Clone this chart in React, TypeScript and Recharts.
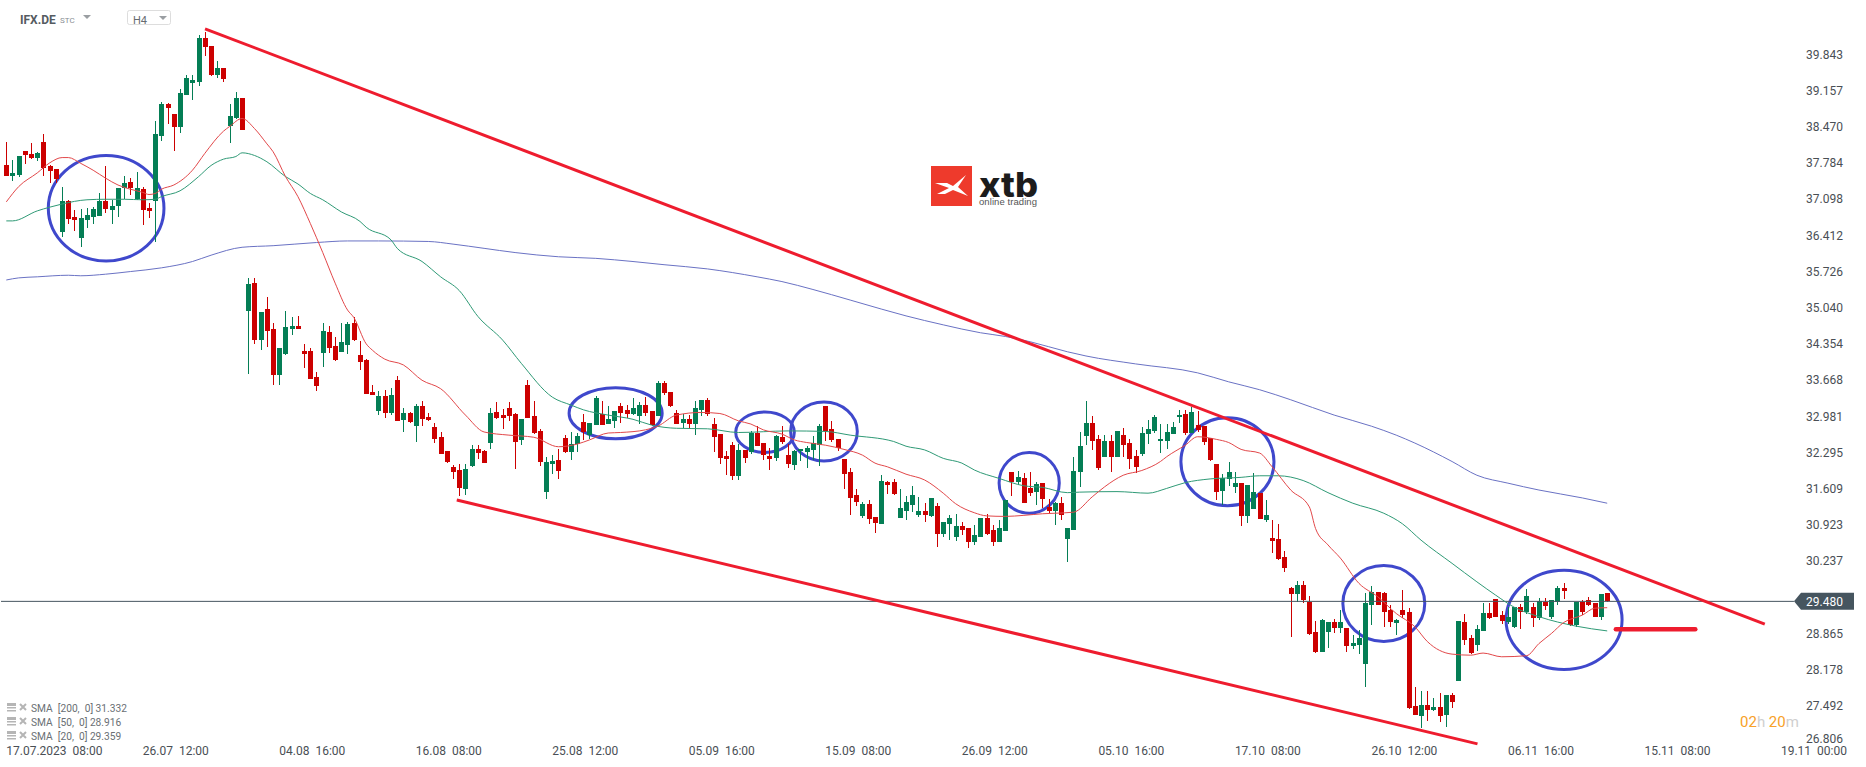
import React from 'react'
import {
  ComposedChart, Bar, Line, XAxis, YAxis, ReferenceLine, ReferenceArea,
} from 'recharts'

const UP = '#047e55'
const DOWN = '#cc0000'
const TREND = '#ee1c2e'
const RING = '#3f48cc'
const FONT = 'Roboto, sans-serif'

// H4 candles, left to right
const opens = [
  37.74, 37.55, 37.56, 38.01, 37.96, 37.88, 38.18, 37.73, 37.67, 36.48,
  37.07, 36.76, 36.37, 36.71, 36.76, 36.78, 37.07, 36.90, 36.97, 37.31,
  37.43, 37.10, 37.29, 36.93, 37.07, 38.30, 38.91, 38.72, 38.47, 39.08,
  39.30, 39.32, 40.16, 40.00, 39.45, 39.59, 38.49, 38.64, 39.02, 34.98,
  35.51, 34.43, 35.02, 34.64, 33.77, 34.17, 34.64, 34.70, 34.23, 34.23,
  33.73, 34.19, 34.58, 34.32, 34.21, 34.34, 34.76, 34.15, 34.05, 33.45,
  33.09, 33.37, 33.05, 33.67, 32.92, 33.05, 32.80, 33.18, 32.97, 32.78,
  32.60, 32.33, 32.03, 31.97, 31.61, 32.05, 32.37, 32.33, 32.48, 33.07,
  33.01, 33.14, 33.03, 32.54, 33.58, 32.99, 32.71, 31.55, 32.08, 32.16,
  32.57, 32.31, 32.46, 32.88, 32.63, 32.82, 33.03, 32.84, 32.90, 33.18,
  33.11, 33.03, 32.99, 33.20, 33.09, 32.99, 33.62, 33.45, 33.05, 32.86,
  32.94, 32.84, 33.11, 33.30, 32.84, 32.65, 32.23, 32.44, 31.86, 32.35,
  32.31, 32.67, 32.48, 32.23, 32.20, 32.60, 32.25, 32.06, 32.32, 32.31,
  32.35, 32.44, 33.18, 32.75, 32.56, 32.18, 31.93, 31.50, 31.10, 31.33,
  31.08, 30.95, 31.74, 31.74, 31.06, 31.19, 31.31, 31.12, 31.19, 31.10,
  31.29, 30.76, 30.95, 30.70, 30.91, 30.87, 30.61, 30.70, 31.06, 30.83,
  30.61, 30.81, 31.93, 31.74, 31.82, 31.63, 31.55, 31.72, 31.27, 31.19,
  31.34, 30.66, 30.83, 31.93, 32.61, 32.86, 32.56, 32.22, 32.52, 32.22,
  32.63, 32.48, 32.23, 32.27, 32.65, 32.71, 32.51, 32.52, 32.65, 32.98,
  33.03, 32.67, 32.82, 32.80, 32.58, 32.08, 31.57, 31.80, 31.65, 31.72,
  31.10, 31.23, 31.53, 31.02, 30.68, 30.66, 30.32, 29.73, 29.62, 29.79,
  29.47, 28.90, 28.52, 28.90, 29.09, 28.98, 28.98, 28.63, 28.65, 28.29,
  29.41, 29.66, 29.64, 29.32, 29.07, 29.32, 29.28, 27.50, 27.31, 27.52,
  27.42, 27.48, 27.33, 27.70, 27.97, 29.09, 28.79, 28.65, 28.92, 29.26,
  29.52, 29.22, 29.09, 29.00, 29.37, 29.28, 29.37, 29.17, 29.47, 29.18,
  29.47, 29.73, 29.32, 29.03, 29.47, 29.50, 29.45, 29.18, 29.64,
]
const closes = [
  37.55, 37.60, 37.92, 37.93, 37.88, 37.98, 37.70, 37.64, 37.48, 37.07,
  36.73, 36.71, 36.74, 36.80, 36.92, 37.07, 36.92, 36.97, 37.31, 37.41,
  37.31, 37.31, 36.90, 36.88, 38.34, 38.91, 38.83, 38.47, 39.11, 39.40,
  39.36, 40.16, 39.99, 39.45, 39.59, 39.38, 38.68, 39.02, 38.41, 35.50,
  34.43, 34.96, 34.60, 33.77, 34.28, 34.68, 34.70, 34.64, 34.17, 33.69,
  33.56, 34.60, 34.28, 34.05, 34.40, 34.74, 34.43, 34.02, 33.41, 33.39,
  33.37, 33.05, 33.39, 32.90, 33.05, 32.88, 33.18, 32.94, 32.92, 32.56,
  32.27, 32.12, 31.93, 31.63, 31.99, 32.37, 32.29, 32.10, 33.05, 32.96,
  32.96, 32.99, 32.50, 32.94, 32.96, 32.67, 32.12, 32.12, 32.14, 31.95,
  32.31, 32.46, 32.61, 32.69, 32.86, 33.33, 32.82, 32.94, 33.09, 33.05,
  33.03, 33.14, 33.20, 33.05, 32.82, 33.62, 33.43, 33.18, 32.84, 32.94,
  32.84, 33.14, 33.30, 33.03, 32.59, 32.20, 32.18, 31.86, 32.35, 32.20,
  32.67, 32.42, 32.25, 32.18, 32.61, 32.50, 32.08, 32.33, 32.36, 32.39,
  32.48, 32.80, 32.71, 32.54, 32.39, 31.89, 31.44, 31.36, 31.33, 31.04,
  30.97, 31.76, 31.69, 31.51, 31.25, 31.36, 31.50, 31.19, 31.12, 31.44,
  30.76, 30.98, 31.06, 30.91, 30.83, 30.61, 30.74, 31.06, 30.76, 30.61,
  30.87, 31.40, 31.74, 31.84, 31.34, 31.53, 31.70, 31.42, 31.19, 31.34,
  31.12, 30.87, 31.95, 32.42, 32.86, 32.52, 32.01, 32.52, 32.22, 32.71,
  32.44, 32.18, 32.03, 32.67, 32.75, 32.97, 32.56, 32.69, 32.78, 33.02,
  32.67, 33.07, 32.73, 32.50, 32.16, 31.55, 31.82, 31.93, 31.72, 31.10,
  31.68, 31.55, 31.04, 31.12, 30.62, 30.28, 30.11, 29.62, 29.79, 29.51,
  28.86, 28.52, 29.13, 29.09, 28.98, 29.09, 28.63, 28.69, 28.79, 29.45,
  29.66, 29.41, 29.28, 29.09, 29.13, 29.22, 27.46, 27.33, 27.52, 27.42,
  27.48, 27.31, 27.70, 27.57, 29.11, 28.75, 28.50, 28.96, 29.26, 29.17,
  29.18, 29.11, 29.18, 29.37, 29.28, 29.58, 29.17, 29.49, 29.39, 29.50,
  29.73, 29.68, 29.03, 29.47, 29.28, 29.41, 29.18, 29.62, 29.49,
]
const highs = [
  38.18, 37.84, 37.92, 38.01, 38.16, 38.00, 38.33, 37.74, 37.67, 37.33,
  37.09, 36.90, 36.92, 36.93, 36.95, 37.21, 37.73, 37.09, 37.31, 37.54,
  37.50, 37.62, 37.33, 37.03, 38.58, 38.94, 38.92, 38.72, 39.19, 39.45,
  39.45, 40.21, 40.27, 40.00, 39.72, 39.59, 38.91, 39.13, 39.02, 35.61,
  35.61, 34.96, 35.25, 34.76, 34.28, 34.98, 34.87, 34.89, 34.36, 34.28,
  33.83, 34.76, 34.70, 34.49, 34.76, 34.77, 34.87, 34.41, 34.07, 33.58,
  33.47, 33.49, 33.52, 33.75, 33.14, 33.07, 33.22, 33.28, 33.05, 32.86,
  32.69, 32.33, 32.06, 32.08, 32.08, 32.44, 32.44, 32.35, 33.14, 33.26,
  33.13, 33.26, 33.05, 32.94, 33.67, 33.28, 32.75, 32.22, 32.25, 32.37,
  32.63, 32.69, 32.67, 33.03, 32.86, 33.37, 33.28, 33.18, 33.09, 33.24,
  33.20, 33.33, 33.26, 33.35, 33.09, 33.66, 33.66, 33.45, 33.11, 33.03,
  33.01, 33.28, 33.30, 33.33, 32.95, 32.65, 32.33, 32.50, 32.46, 32.35,
  32.71, 32.80, 32.48, 32.39, 32.63, 32.80, 32.46, 32.35, 32.37, 32.42,
  32.61, 32.84, 33.18, 32.90, 32.56, 32.18, 32.01, 31.61, 31.36, 31.40,
  31.08, 31.87, 31.76, 31.80, 31.61, 31.48, 31.67, 31.46, 31.34, 31.44,
  31.34, 30.98, 31.12, 31.14, 30.98, 30.87, 30.93, 31.06, 31.14, 30.93,
  31.02, 31.40, 31.93, 31.95, 31.91, 31.93, 31.74, 31.72, 31.42, 31.36,
  31.46, 30.87, 32.22, 32.69, 33.28, 32.99, 32.63, 32.63, 32.63, 32.71,
  32.77, 32.56, 32.35, 32.78, 32.92, 33.01, 32.84, 32.84, 32.88, 33.11,
  33.11, 33.16, 33.09, 32.80, 32.58, 32.08, 31.89, 32.12, 31.93, 31.72,
  31.68, 31.91, 31.53, 31.40, 31.02, 30.95, 30.43, 29.75, 29.87, 29.87,
  29.58, 29.11, 29.15, 29.09, 29.15, 29.32, 28.98, 28.84, 28.94, 29.64,
  29.77, 29.66, 29.66, 29.41, 29.15, 29.70, 29.35, 27.86, 27.78, 27.78,
  27.65, 27.74, 27.70, 27.74, 29.11, 29.24, 28.84, 29.03, 29.45, 29.45,
  29.52, 29.30, 29.37, 29.37, 29.43, 29.71, 29.45, 29.54, 29.54, 29.50,
  29.77, 29.83, 29.32, 29.47, 29.50, 29.56, 29.45, 29.62, 29.64,
]
const lows = [
  37.55, 37.45, 37.53, 37.77, 37.86, 37.83, 37.55, 37.41, 37.40, 36.39,
  36.64, 36.50, 36.20, 36.56, 36.63, 36.78, 36.84, 36.63, 36.76, 37.10,
  37.18, 37.09, 36.61, 36.74, 36.29, 38.20, 38.53, 38.01, 38.36, 39.08,
  38.98, 39.25, 39.81, 39.44, 39.40, 39.32, 38.17, 38.62, 38.41, 33.79,
  34.36, 34.24, 34.30, 33.58, 33.58, 34.15, 34.53, 34.64, 33.90, 33.69,
  33.47, 33.92, 34.19, 34.03, 34.21, 34.17, 34.41, 33.86, 33.41, 33.39,
  33.01, 32.96, 33.01, 32.90, 32.69, 32.86, 32.50, 32.80, 32.90, 32.48,
  32.27, 32.10, 31.80, 31.48, 31.50, 32.03, 32.18, 32.10, 32.37, 32.94,
  32.75, 32.90, 31.99, 32.44, 32.96, 32.65, 32.05, 31.42, 31.89, 31.80,
  32.29, 32.16, 32.31, 32.54, 32.56, 32.82, 32.82, 32.84, 32.77, 32.86,
  32.96, 33.01, 32.84, 32.99, 32.80, 32.99, 33.39, 33.16, 32.84, 32.77,
  32.75, 32.63, 32.99, 32.99, 32.31, 32.08, 31.87, 31.78, 31.78, 32.10,
  32.27, 32.42, 32.16, 31.97, 32.14, 32.46, 32.01, 31.97, 32.14, 32.01,
  32.16, 32.05, 32.52, 32.50, 32.33, 31.61, 31.12, 31.29, 31.06, 30.95,
  30.78, 30.95, 31.51, 31.49, 31.06, 31.02, 31.17, 31.08, 30.98, 31.08,
  30.51, 30.70, 30.64, 30.63, 30.74, 30.49, 30.55, 30.70, 30.74, 30.53,
  30.61, 30.81, 31.48, 31.69, 31.34, 31.48, 31.31, 31.25, 31.15, 30.93,
  31.02, 30.23, 30.83, 31.65, 32.44, 32.35, 31.97, 32.22, 31.93, 32.22,
  32.22, 31.99, 31.91, 32.23, 32.46, 32.67, 32.30, 32.37, 32.65, 32.86,
  32.63, 32.67, 32.69, 32.44, 32.14, 31.40, 31.31, 31.67, 31.53, 30.91,
  30.97, 31.23, 31.04, 30.98, 30.40, 30.26, 30.04, 28.80, 29.47, 29.45,
  28.84, 28.50, 28.52, 28.60, 28.88, 28.88, 28.52, 28.58, 28.48, 27.86,
  29.03, 29.41, 29.00, 29.00, 28.84, 29.17, 27.44, 27.33, 27.08, 27.21,
  27.40, 27.19, 27.10, 27.46, 27.97, 28.65, 28.48, 28.54, 28.92, 29.15,
  29.18, 29.05, 29.05, 28.98, 28.96, 29.24, 29.00, 29.13, 29.32, 29.15,
  29.41, 29.52, 29.01, 28.99, 29.22, 29.39, 29.18, 29.13, 29.47,
]

// moving averages, read at the candle numbers listed
const sma20Index = [
  0, 2, 5, 7, 9, 10, 12, 14, 16, 18, 20, 22, 23, 24, 25, 27, 30, 32, 35, 36, 38, 40, 42, 43, 45, 47, 49, 51, 53, 55,
  56, 58, 59, 61, 64, 67, 70, 74, 77, 81, 85, 89, 92, 94, 97, 99, 103, 105, 108, 112, 115, 118, 120, 122, 125, 127,
  129, 132, 135, 138, 140, 142, 145, 148, 151, 153, 156, 158, 161, 164, 167, 169, 172, 175, 177, 180, 183, 186, 187,
  190, 192, 195, 197, 199, 202, 204, 207, 210, 211, 213, 215, 218, 221, 224, 227, 229, 233, 236, 238, 241, 245, 247,
  249, 251, 254, 256, 258,
]
const sma20Values = [
  37.05, 37.34, 37.60, 37.79, 37.89, 37.89, 37.78, 37.65, 37.50, 37.37, 37.29, 37.23, 37.19, 37.21, 37.29, 37.37, 37.65,
  37.97, 38.39, 38.48, 38.63, 38.44, 38.15, 38.00, 37.53, 37.15, 36.64, 36.09, 35.51, 35.00,
  34.86, 34.36, 34.24, 34.07, 33.96, 33.67, 33.51, 33.01, 32.69, 32.63, 32.59, 32.41, 32.46, 32.54, 32.67, 32.68, 32.73,
  32.80, 33.01, 33.06, 33.04, 32.90, 32.84, 32.73, 32.65, 32.54,
  32.49, 32.44, 32.36, 32.25, 32.10, 32.03, 31.89, 31.78, 31.53, 31.33, 31.16, 31.10, 31.09, 31.11, 31.14, 31.15, 31.17,
  31.46, 31.65, 31.87, 31.96, 32.13, 32.22,
  32.44, 32.60, 32.55, 32.49, 32.36, 32.29, 32.03, 31.59, 31.27, 30.86, 30.55, 30.30, 29.82, 29.57, 29.25, 29.00, 28.72,
  28.48, 28.46, 28.50, 28.43, 28.45, 28.68,
  28.87, 29.08, 29.22, 29.35, 29.36,
]
const sma50Index = [
  0, 1, 5, 7, 9, 13, 16, 19, 22, 24, 25, 28, 31, 33, 35, 37, 38, 40, 42, 45, 47, 49, 51, 54, 57, 58, 62, 63, 67, 70, 73,
  76, 80, 83, 88, 91, 93, 97, 101, 104, 108, 113, 118, 126, 132, 136, 143, 145, 148, 151, 154, 156, 160, 164, 167, 171,
  173, 179, 184, 187, 190, 194, 199, 202, 205, 209, 213, 217, 222, 225, 228, 233, 237, 240, 243, 247, 253, 258,
]
const sma50Values = [
  36.69, 36.69, 36.88, 36.95, 37.01, 37.09, 37.10, 37.10, 37.09, 37.10, 37.15, 37.26, 37.53, 37.74, 37.86, 37.91, 37.98,
  37.93, 37.81, 37.53, 37.39, 37.21, 37.09, 36.86, 36.68, 36.57, 36.33, 36.17, 35.92, 35.63, 35.37,
  34.88, 34.43, 33.99, 33.35, 33.20, 33.11, 33.01, 32.93, 32.82, 32.76, 32.75, 32.68, 32.71, 32.70, 32.63, 32.51, 32.42,
  32.35, 32.19, 32.10, 31.97, 31.81, 31.67, 31.64, 31.54,
  31.55, 31.56, 31.53, 31.62, 31.73, 31.80, 31.83, 31.86, 31.86, 31.77, 31.54, 31.34, 31.15, 30.95, 30.64, 30.20, 29.85,
  29.60, 29.37, 29.19, 29.01, 28.92,
]
const sma200Index = [
  0, 2, 5, 10, 12, 16, 20, 25, 30, 33, 38, 43, 50, 55, 60, 68, 72, 77, 82, 89, 95, 101, 106, 113, 121, 125, 130, 136,
  141, 145, 151, 157, 161, 165, 171, 174, 182, 192, 197, 202, 207, 214, 220, 224, 227, 233, 237, 242, 247, 254, 258,
]
const sma200Values = [
  35.57, 35.61, 35.63, 35.66, 35.65, 35.68, 35.73, 35.80, 35.92, 36.04, 36.19, 36.22, 36.28, 36.31, 36.31, 36.30, 36.25,
  36.17, 36.09, 36.01, 35.98, 35.92, 35.86, 35.78, 35.63, 35.54, 35.39, 35.19,
  35.02, 34.89, 34.72, 34.57, 34.50, 34.40, 34.21, 34.13, 33.98, 33.81, 33.64, 33.49, 33.30, 33.01, 32.80, 32.63, 32.48,
  32.13, 31.87, 31.72, 31.59, 31.44, 31.34,
]

const priceTicks = [
  39.843, 39.157, 38.47, 37.784, 37.098, 36.412, 35.726, 35.04, 34.354, 33.668,
  32.981, 32.295, 31.609, 30.923, 30.237, 29.48, 28.865, 28.178, 27.492, 26.806,
]
const lastPrice = 29.48

const timeTicks = [0, 22, 44, 66, 88, 110, 132, 154, 176, 198, 220, 242, 264, 286]
const timeLabels = [
  '17.07.2023  08:00', '26.07  12:00', '04.08  16:00', '16.08  08:00', '25.08  12:00', '05.09  16:00', '15.09  08:00',
  '26.09  12:00', '05.10  16:00', '17.10  08:00', '26.10  12:00', '06.11  16:00', '15.11  08:00', '19.11  00:00',
]

// drawn on the chart by hand: [candle, price] ends of each line
const upperTrend = [[32.03, 40.33], [283.4, 29.05]]
const lowerTrend = [[72.6, 31.40], [237.1, 26.78]]
const targetLine = [[259.4, 28.95], [272.2, 28.95]]

// [first candle, last candle, top price, bottom price]
const rings = [
  [6.77, 25.41, 37.93, 35.93],
  [90.7, 105.7, 33.53, 32.56],
  [117.55, 127.0, 33.07, 32.30],
  [126.4, 137.15, 33.26, 32.14],
  [160.0, 169.7, 32.30, 31.15],
  [189.3, 204.3, 32.96, 31.29],
  [215.4, 228.6, 30.16, 28.72],
  [241.7, 260.4, 30.07, 28.19],
]

const legendLines = ['SMA  [200,  0] 31.332', 'SMA  [50,  0] 28.916', 'SMA  [20,  0] 29.359']

const rows = opens.map((open, i) => ({
  i,
  open,
  close: closes[i],
  range: [lows[i], highs[i]],
  sma20: sma20Index.includes(i) ? sma20Values[sma20Index.indexOf(i)] : null,
  sma50: sma50Index.includes(i) ? sma50Values[sma50Index.indexOf(i)] : null,
  sma200: sma200Index.includes(i) ? sma200Values[sma200Index.indexOf(i)] : null,
}))

function Candle(props: any) {
  const { x, y, width, height, payload } = props
  const [low, high] = payload.range
  const perUnit = height / (high - low)
  const top = y + (high - Math.max(payload.open, payload.close)) * perUnit
  const bottom = y + (high - Math.min(payload.open, payload.close)) * perUnit
  const left = Math.round(x + width / 2 - 2.5)
  const color = payload.close >= payload.open ? UP : DOWN
  return (
    <g shapeRendering="crispEdges">
      <rect x={left + 2} y={y} width={1} height={height} fill={color} />
      <rect x={left} y={top} width={5} height={Math.max(bottom - top, 1)} fill={color} />
    </g>
  )
}

function Ring(props: any) {
  const { x, y, width, height } = props
  return (
    <ellipse
      cx={x + width / 2}
      cy={y + height / 2}
      rx={width / 2}
      ry={height / 2}
      fill="none"
      stroke={RING}
      strokeWidth={3}
    />
  )
}

function TimeTick(props: any) {
  return (
    <text x={props.x} y={755} fontFamily={FONT} fontSize={12} fill="#4a4f55" style={{ whiteSpace: 'pre' }}>
      {timeLabels[timeTicks.indexOf(props.payload.value)]}
    </text>
  )
}

function PriceTick(props: any) {
  const value = props.payload.value
  const y = Math.min(props.y, 738.5)
  if (value === lastPrice) {
    return (
      <g>
        <polygon points={`1794,${y} 1801,${y - 8.5} 1854,${y - 8.5} 1854,${y + 8.5} 1801,${y + 8.5}`} fill="#46555f" />
        <text x={1806} y={y + 4.5} fontFamily={FONT} fontSize={12} fill="#fff">{value.toFixed(3)}</text>
      </g>
    )
  }
  return (
    <text x={1806} y={y + 4} fontFamily={FONT} fontSize={12} fill="#4a4f55">{value.toFixed(3)}</text>
  )
}

function trendSegment(line: number[][]) {
  return line.map(([x, y]) => ({ x, y }))
}

function Overlay() {
  return (
    <svg width={1866} height={767} style={{ position: 'absolute', left: 0, top: 0, pointerEvents: 'none' }}>
      {/* header */}
      <text x={20} y={24} fontFamily={FONT} fontSize={12} fontWeight={700} fill="#555b61">IFX.DE</text>
      <text x={60} y={23} fontFamily={FONT} fontSize={8} fill="#8a8f94">STC</text>
      <polygon points="83,15 91,15 87,19" fill="#9a9ea2" />
      <rect x={127.5} y={10.5} width={43} height={14} rx={2} fill="#fff" stroke="#dddddd" />
      <text x={133} y={24} fontFamily={FONT} fontSize={11} fill="#666b70">H4</text>
      <polygon points="159,16 167,16 163,20" fill="#9a9ea2" />

      {/* logo */}
      <rect x={931} y={166} width={41} height={40} fill="#ee3a2c" />
      <polygon
        points="935,183 947,183 953,186 966,175 958,187 968,196 953,190 945,194 937,194 949,188"
        fill="#fff"
      />
      <text x={979} y={197} fontFamily="Inter, sans-serif" fontSize={34} fontWeight={800} fill="#1c1c1c" textLength={59} lengthAdjust="spacingAndGlyphs">xtb</text>
      <text x={979} y={205} fontFamily="Liberation Sans, Arial, sans-serif" fontSize={9.5} fill="#555" textLength={58}>online trading</text>

      {/* indicator legend */}
      {legendLines.map((line, k) => {
        const y = 708 + k * 14
        return (
          <g key={line}>
            <rect x={7} y={y - 5} width={9} height={3} fill="#b5b5b5" />
            <rect x={7} y={y - 1} width={9} height={1.5} fill="#b5b5b5" />
            <rect x={7} y={y + 2} width={9} height={1.5} fill="#b5b5b5" />
            <path d={`M20,${y - 4} L26,${y + 2} M26,${y - 4} L20,${y + 2}`} stroke="#b5b5b5" strokeWidth={2} />
            <text x={31} y={y + 4} fontFamily={FONT} fontSize={10.2} fill="#6a6f74" style={{ whiteSpace: 'pre' }}>{line}</text>
          </g>
        )
      })}

      {/* candle countdown */}
      <text x={1740} y={727} fontFamily={FONT} fontSize={15} fill="#f7a128" style={{ whiteSpace: 'pre' }}>
        02<tspan fill="#cfcfcf">h</tspan> 20<tspan fill="#cfcfcf">m</tspan>
      </text>
    </svg>
  )
}

export default function App() {
  return (
    <div style={{ position: 'absolute', left: 0, top: 0, width: 1866, height: 767, background: '#fff', overflow: 'hidden' }}>
      <ComposedChart width={1866} height={767} data={rows} margin={{ top: 0, right: 0, bottom: 0, left: 0 }}>
        <XAxis
          dataKey="i"
          type="number"
          domain={[-0.854, 299.71]}
          allowDataOverflow
          ticks={timeTicks}
          interval={0}
          height={1}
          axisLine={false}
          tickLine={false}
          tick={TimeTick}
        />
        <YAxis
          type="number"
          domain={[26.36, 40.876]}
          allowDataOverflow
          ticks={priceTicks}
          interval={0}
          width={1}
          axisLine={false}
          tickLine={false}
          tick={PriceTick}
        />
        <ReferenceLine
          segment={[{ x: -0.854, y: lastPrice }, { x: 288.1, y: lastPrice }]}
          stroke="#46555f"
          strokeWidth={1}
        />
        <Bar dataKey="range" barSize={5} shape={Candle} isAnimationActive={false} />
        <Line dataKey="sma200" stroke="#6a72c4" strokeWidth={1} dot={false} activeDot={false} connectNulls type="monotone" isAnimationActive={false} />
        <Line dataKey="sma50" stroke="#2f9a76" strokeWidth={1} dot={false} activeDot={false} connectNulls type="monotone" isAnimationActive={false} />
        <Line dataKey="sma20" stroke="#e2484a" strokeWidth={1} dot={false} activeDot={false} connectNulls type="monotone" isAnimationActive={false} />
        <ReferenceLine segment={trendSegment(upperTrend)} stroke={TREND} strokeWidth={3} />
        <ReferenceLine segment={trendSegment(lowerTrend)} stroke={TREND} strokeWidth={3} />
        <ReferenceLine segment={trendSegment(targetLine)} stroke={TREND} strokeWidth={4.5} strokeLinecap="round" />
        {rings.map(([x1, x2, y1, y2]) => (
          <ReferenceArea key={x1} x1={x1} x2={x2} y1={y1} y2={y2} shape={Ring} />
        ))}
      </ComposedChart>
      <Overlay />
    </div>
  )
}
